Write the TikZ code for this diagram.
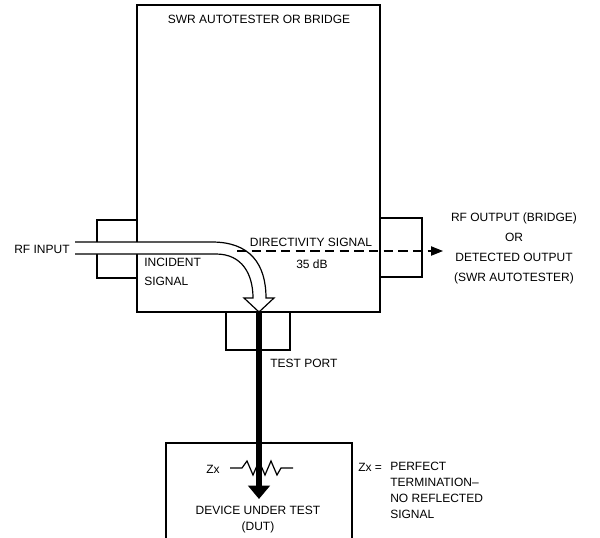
\documentclass[tikz,border=0pt]{standalone}
\usepackage{fontspec}
\setmainfont{Liberation Sans}
\usetikzlibrary{arrows.meta}

\begin{document}
\begin{tikzpicture}[x=0.75pt,y=-0.75pt,
  box/.style={line width=1.2pt,line join=miter},
  pipe/.style={line width=0.9pt},
  lbl/.style={font=\fontsize{9}{13}\selectfont,inner sep=0pt},
  dirline/.style={line width=0.8pt,dash pattern=on 7pt off 4pt,-{Triangle[length=9pt,width=7pt]}}]
\useasboundingbox (0,0) rectangle (600,537);
% tester, its three ports and the DUT box
\draw[box] (137,5) rectangle (380,312);
\draw[box] (137,220) -- (97,220) -- (97,278) -- (137,278);
\draw[box] (380,218) -- (422,218) -- (422,277) -- (380,277);
\draw[box] (226,312) -- (226,350) -- (290,350) -- (290,312);
\draw[box] (166,540) -- (166,443) -- (352,443) -- (352,540);
% incident signal (hollow arrow)
\coordinate (inA) at (75,242); \coordinate (inB) at (75,254);
\coordinate (tip) at (259,312);
\fill[white] (inA) -- (212,242) .. controls (250,242) and (266,264) .. (266,298) -- (274,298) -- (tip)
  -- (244,298) -- (253,298) .. controls (253,274) and (242,254) .. (216,254) -- (inB) -- cycle;
\draw[pipe,line join=miter] (inA) -- (212,242) .. controls (250,242) and (266,264) .. (266,298) -- (274,298) -- (tip)
  -- (244,298) -- (253,298) .. controls (253,274) and (242,254) .. (216,254) -- (inB);
% directivity signal
\coordinate (dirA) at (237,251); \coordinate (dirB) at (443,251);
\draw[dirline] (dirA) -- (dirB);
% path to the device under test
\coordinate (dut) at (259,499);
\draw[line width=4.5pt,-{Triangle[length=10pt,width=16pt]}] (tip) -- (dut);
\draw[line width=0.9pt,line join=miter] (230,468) -- (242,468) -- (247,461) -- (253,475) -- (259,461)
  -- (265,475) -- (271,461) -- (277,475) -- (281,468) -- (293,468);
% labels
\node[lbl] (title) at (259,19) {SWR AUTOTESTER OR BRIDGE};
\node[lbl] (rfin) at (42,249) {RF INPUT};
\node[lbl,anchor=west,align=left] (inc) at (144,272) {INCIDENT\\[1.2pt]SIGNAL};
\node[lbl] (dir) at (311,242) {DIRECTIVITY SIGNAL};
\node[lbl] (db) at (312,264) {35 dB};
\node[lbl,align=center,font=\fontsize{9}{15}\selectfont] (rfout) at (514,248) {RF OUTPUT (BRIDGE)\\OR\\DETECTED OUTPUT\\(SWR AUTOTESTER)};
\node[lbl,anchor=west] (tport) at (270,363) {TEST PORT};
\node[lbl] (zx) at (213,469) {Zx};
\node[lbl,anchor=west] (zxeq) at (358,467) {Zx =};
\node[lbl,anchor=north west,align=left,font=\fontsize{9}{12}\selectfont] (term) at (390,462) {PERFECT\\TERMINATION--\\NO REFLECTED\\SIGNAL};
\node[lbl,align=center,font=\fontsize{9}{12}\selectfont] (dutlbl) at (258,520) {DEVICE UNDER TEST\\(DUT)};
\end{tikzpicture}
\end{document}
